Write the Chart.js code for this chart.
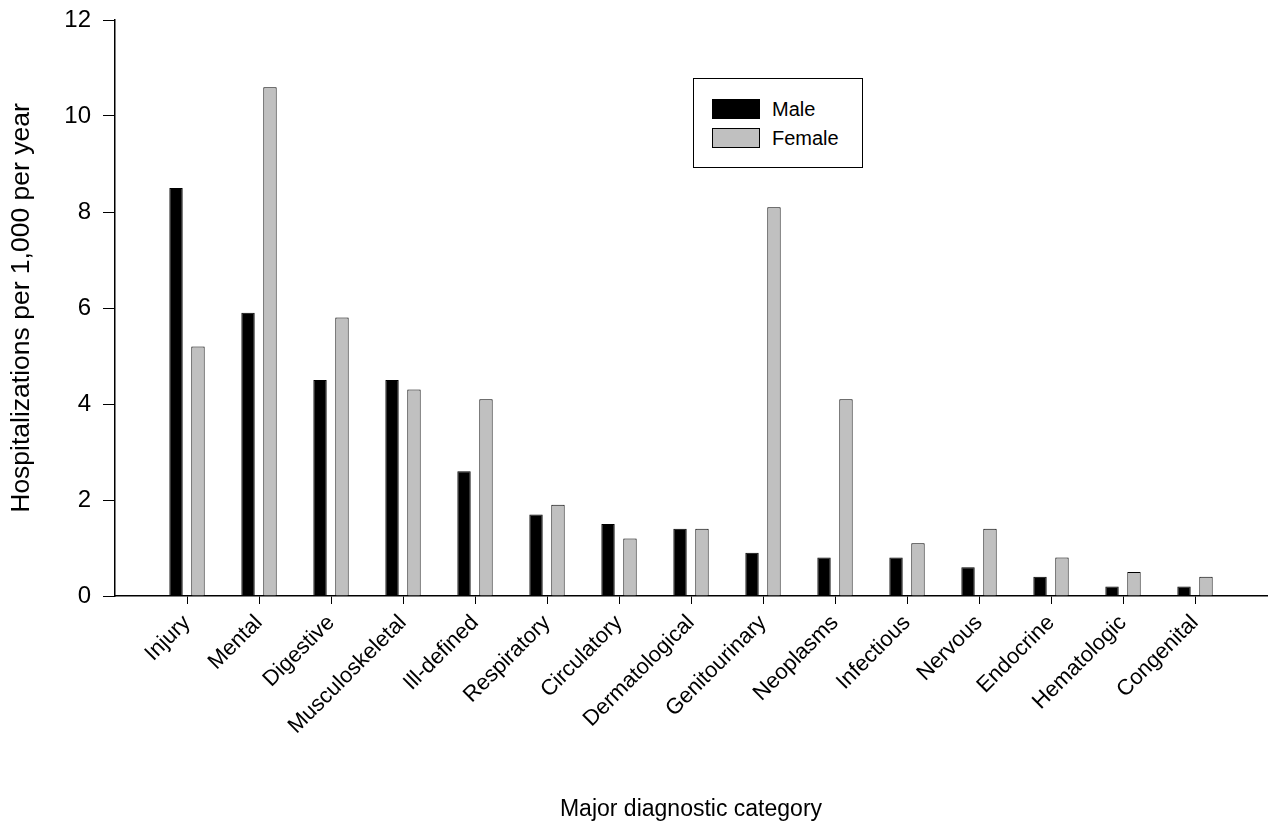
<!DOCTYPE html>
<html lang="en">
<head>
    <style>
        body {
            margin: 0;
            background-color: #fff;
            font-family: 'Liberation Sans', Arial, sans-serif;
        }

        #wrap {
            position: relative;
            width: 1271px;
            height: 827px;
        }

        #legendBox {
            position: absolute;
            left: 693px;
            top: 78px;
            width: 168px;
            height: 88px;
            border: 1px solid #000;
            background: #fff;
            box-sizing: content-box;
        }

        .legendItem {
            position: absolute;
            left: 18px;
            height: 20px;
            font-size: 20px;
            line-height: 20px;
            color: #000;
        }

        .legendItem span.swatch {
            display: inline-block;
            width: 46px;
            height: 18px;
            border: 1px solid #000;
            vertical-align: top;
            margin-right: 12px;
        }
    </style>
</head>
<body>

<div id="wrap">
    <canvas id="hospChart" width="1271" height="827"></canvas>
    <div id="legendBox"></div>
</div>

<script src="https://cdn.jsdelivr.net/npm/chart.js"></script>
<script>
    // Data
    const categories = ['Injury', 'Mental', 'Digestive', 'Musculoskeletal', 'Ill-defined',
        'Respiratory', 'Circulatory', 'Dermatological', 'Genitourinary', 'Neoplasms',
        'Infectious', 'Nervous', 'Endocrine', 'Hematologic', 'Congenital'];
    const maleRates = [8.5, 5.9, 4.5, 4.5, 2.6, 1.7, 1.5, 1.4, 0.9, 0.8, 0.8, 0.6, 0.4, 0.2, 0.2];
    const femaleRates = [5.2, 10.6, 5.8, 4.3, 4.1, 1.9, 1.2, 1.4, 8.1, 4.1, 1.1, 1.4, 0.8, 0.5, 0.4];
    const yTicks = [0, 2, 4, 6, 8, 10, 12];

    const FONT = "'Liberation Sans', Arial, sans-serif";

    // one empty slot on each side so the first category sits a full step from the axis
    const xLabels = [''].concat(categories, ['']);
    const pad = arr => [null].concat(arr, [null]);

    const datasets = [
        {
            label: 'Male',
            data: pad(maleRates),
            backgroundColor: '#000000',
            borderColor: '#000000',
            borderWidth: 1
        },
        {
            label: 'Female',
            data: pad(femaleRates),
            backgroundColor: '#c0c0c0',
            borderColor: '#000000',
            borderWidth: 1
        }
    ];

    const ctx = document.getElementById('hospChart').getContext('2d');

    new Chart(ctx, {
        type: 'bar',
        data: {
            labels: xLabels,
            datasets: datasets
        },
        options: {
            responsive: false,
            animation: false,
            layout: {
                padding: { top: 20, left: 0, right: 4, bottom: 0 }
            },
            datasets: {
                bar: {
                    categoryPercentage: 0.61,
                    barPercentage: 0.61
                }
            },
            plugins: {
                legend: { display: false },
                tooltip: { enabled: false }
            },
            scales: {
                x: {
                    offset: false,
                    grid: {
                        offset: false,
                        drawOnChartArea: false,
                        drawTicks: true,
                        tickLength: 8,
                        tickColor: c => (c.index === 0 || c.index === xLabels.length - 1) ? 'rgba(0,0,0,0)' : '#000'
                    },
                    border: { color: '#000', width: 1.5 },
                    ticks: {
                        color: '#000',
                        autoSkip: false,
                        maxRotation: 45,
                        minRotation: 45,
                        padding: 6,
                        font: { family: FONT, size: 22 }
                    },
                    title: {
                        display: true,
                        text: 'Major diagnostic category',
                        color: '#000',
                        font: { family: FONT, size: 23 },
                        padding: { top: 0, bottom: 4 }
                    },
                    afterFit: scale => {
                        scale.height = 231;
                        scale.paddingLeft = 0;
                        scale.paddingRight = 0;
                    }
                },
                y: {
                    min: 0,
                    max: 12,
                    afterBuildTicks: scale => { scale.ticks = yTicks.map(v => ({ value: v })); },
                    grid: {
                        drawOnChartArea: false,
                        drawTicks: true,
                        tickLength: 12,
                        tickColor: '#000'
                    },
                    border: { color: '#000', width: 1.5 },
                    ticks: {
                        color: '#000',
                        padding: 12,
                        font: { family: FONT, size: 24 }
                    },
                    title: {
                        display: true,
                        text: 'Hospitalizations per 1,000 per year',
                        color: '#000',
                        font: { family: FONT, size: 26.5 },
                        padding: { top: 6, bottom: 0 }
                    },
                    afterFit: scale => {
                        scale.width = 115;
                        scale.paddingTop = 0;
                        scale.paddingBottom = 0;
                    }
                }
            }
        }
    });

    // Legend box drawn as html, colours taken from the datasets
    const legendBox = document.getElementById('legendBox');
    datasets.forEach((ds, i) => {
        const item = document.createElement('div');
        item.className = 'legendItem';
        item.style.top = (20 + i * 29) + 'px';
        item.innerHTML = `<span class="swatch" style="background:${ds.backgroundColor}"></span>${ds.label}`;
        legendBox.appendChild(item);
    });
</script>

</body>
</html>
